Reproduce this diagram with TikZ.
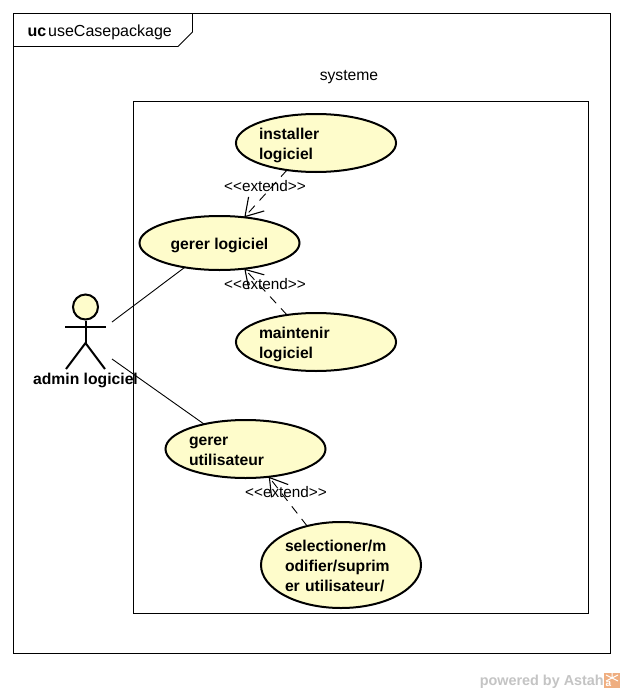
\documentclass[tikz,border=0pt]{standalone}
\usepackage{fontspec}
\setmainfont{Liberation Sans}
\usetikzlibrary{shapes.geometric,arrows.meta}
\definecolor{ucfill}{HTML}{FEFCCB}
\definecolor{wmgrey}{HTML}{C4C4C4}
\definecolor{wmorange}{HTML}{EFAE80}
\newcommand{\ucdrop}[1]{\rule{0pt}{#1pt}}
\tikzset{
  frameline/.style={draw=black,line width=0.9pt},
  usecase/.style={ellipse,draw=black,line width=2pt,fill=ucfill,inner ysep=0pt,inner xsep=-0.4pt,outer sep=0pt,
    minimum width=160pt,align=left,font=\fontsize{15.7}{20}\selectfont\bfseries},
  assoc/.style={draw=black,line width=0.9pt},
  extendline/.style={draw=black,line width=0.9pt,dash pattern=on 9pt off 7pt,
    -{Straight Barb[length=17pt,width=21pt,line width=1.1pt]}},
  plainlabel/.style={inner sep=0pt,font=\fontsize{16}{20}\selectfont},
  extlabel/.style={inner sep=0pt,font=\fontsize{15.3}{20}\selectfont},
  stick/.style={draw=black,line width=2pt},
}
\begin{document}
\begin{tikzpicture}[x=1pt,y=-1pt]
\useasboundingbox (0,0) rectangle (624,693);
\fill[white] (0,0) rectangle (624,693);
% frames
\draw[frameline] (13.5,13.5) rectangle (610.5,653.5);
\draw[frameline] (13.5,46.5) -- (178,46.5) -- (192.5,32) -- (192.5,13.5);
\node[plainlabel,anchor=base west] (ucword) at (27.5,37) {\bfseries uc};
\node[plainlabel,anchor=base west] (pkgname) at (48,37) {useCasepackage};
\node[plainlabel,font=\fontsize{15.7}{20}\selectfont] (sysname) at (349,77) {systeme};
\draw[frameline] (133.5,101.5) rectangle (588.5,613);
% use cases
\node[usecase,minimum height=58pt,text width=114pt] (inst) at (316,143) {\ucdrop{15.6}installer\\logiciel};
\node[usecase,minimum height=54pt] (gl) at (219.5,243) {\ucdrop{16.2}gerer logiciel};
\node[usecase,minimum height=58pt,text width=114pt] (maint) at (316,342) {\ucdrop{15.6}maintenir\\logiciel};
\node[usecase,minimum height=58pt,text width=113pt] (gu) at (245.5,449) {\ucdrop{12.4}gerer\\utilisateur};
\node[usecase,minimum height=86pt,text width=112pt] (sel) at (341,565) {\ucdrop{14.2}selectioner/m\\odifier/suprim\\er utilisateur/};
% actor
\node[circle,draw=black,line width=2pt,fill=ucfill,minimum size=25pt,inner sep=0pt] (head) at (85.5,307) {};
\coordinate (hip) at (85.5,343);
\coordinate (armL) at (65,327);
\coordinate (armR) at (106,327);
\coordinate (footL) at (66,369);
\coordinate (footR) at (105,369);
\draw[stick] (head.south) -- (hip);
\draw[stick] (armL) -- (armR);
\draw[stick] (footL) -- (hip) -- (footR);
\node[plainlabel,font=\fontsize{15.7}{20}\selectfont\bfseries] (actorname) at (85.5,380.5) {admin logiciel};
% associations
\coordinate (actorTop) at (112,322);
\coordinate (actorBot) at (112,359);
\draw[assoc] (actorTop) -- (gl.-145);
\draw[assoc] (actorBot) -- (gu.149);
% extends
\draw[extendline] (inst.-137) -- (gl.46);
\draw[extendline] (maint.137) -- (gl.-46);
\draw[extendline] (sel.131) -- (gu.-50);
\node[extlabel] (e1) at (265,186) {<{}<extend>{}>};
\node[extlabel] (e2) at (265,284) {<{}<extend>{}>};
\node[extlabel] (e3) at (286,492) {<{}<extend>{}>};
% watermark
\node[inner sep=0pt,anchor=base east,text=wmgrey,font=\fontsize{14.4}{16}\selectfont\bfseries] (wm) at (604,685) {powered by Astah};
\fill[wmorange] (604,673) rectangle (620,688);
\draw[white,line width=1pt] (612,673) -- (612,678) (606,675) -- (618,681) (618,675) -- (606,681);
\node[inner sep=0pt,text=white,font=\fontsize{10}{10}\selectfont\bfseries] (wmicon) at (608.5,683.5) {a};
\end{tikzpicture}
\end{document}
